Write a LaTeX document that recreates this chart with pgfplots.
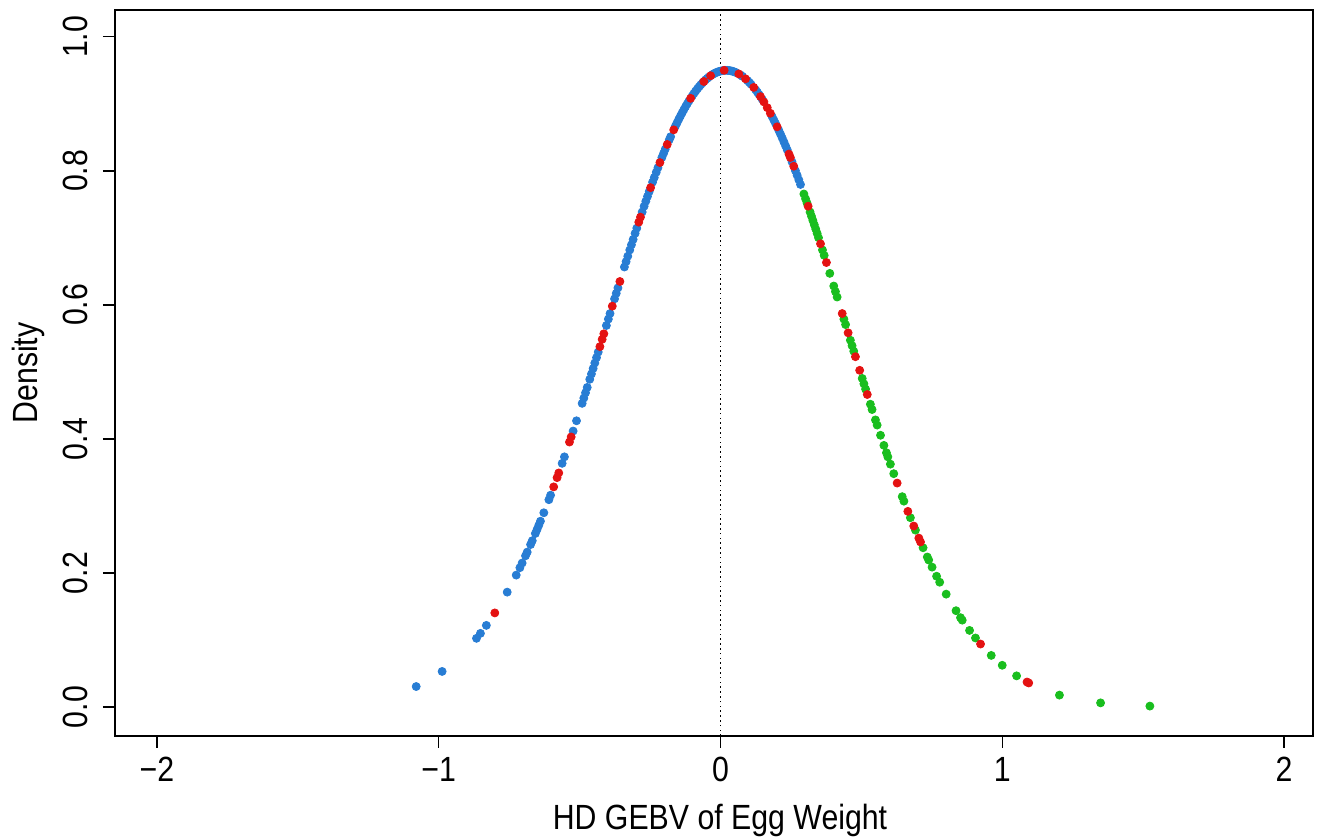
\documentclass[border=0pt]{standalone}
\usepackage{fontspec}
\setmainfont{Liberation Sans}[FakeStretch=0.865]
\usepackage{pgfplots}
\pgfplotsset{compat=1.18}
\definecolor{cblue}{RGB}{40,125,212}
\definecolor{cred}{RGB}{228,18,18}
\definecolor{cgreen}{RGB}{25,190,30}
\pgfplotstableread{
x y
-1.080 0.0308
-0.988 0.0533
-0.866 0.1027
-0.852 0.1101
-0.831 0.1220
-0.757 0.1716
-0.725 0.1970
-0.712 0.2080
-0.704 0.2150
-0.692 0.2258
-0.686 0.2313
-0.674 0.2426
-0.668 0.2483
-0.657 0.2591
-0.651 0.2651
-0.645 0.2712
-0.639 0.2774
-0.627 0.2900
-0.609 0.3095
-0.603 0.3162
-0.562 0.3637
-0.554 0.3734
-0.523 0.4119
-0.511 0.4272
-0.491 0.4532
-0.485 0.4611
-0.479 0.4690
-0.473 0.4770
-0.464 0.4891
-0.458 0.4971
-0.452 0.5052
-0.446 0.5134
-0.440 0.5215
-0.434 0.5297
-0.405 0.5693
-0.398 0.5789
-0.392 0.5872
-0.376 0.6091
-0.370 0.6173
-0.364 0.6254
-0.341 0.6566
-0.335 0.6646
-0.329 0.6727
-0.322 0.6820
-0.316 0.6898
-0.310 0.6977
-0.303 0.7068
-0.297 0.7146
-0.278 0.7386
-0.271 0.7473
-0.265 0.7547
-0.259 0.7619
-0.253 0.7691
-0.241 0.7832
-0.235 0.7901
-0.228 0.7980
-0.222 0.8047
-0.208 0.8199
-0.202 0.8261
-0.196 0.8324
-0.182 0.8462
-0.177 0.8510
-0.160 0.8667
-0.154 0.8719
-0.148 0.8770
-0.142 0.8819
-0.136 0.8867
-0.130 0.8913
-0.124 0.8958
-0.118 0.9001
-0.112 0.9042
-0.100 0.9120
-0.094 0.9157
-0.088 0.9191
-0.082 0.9224
-0.076 0.9255
-0.070 0.9284
-0.064 0.9312
-0.053 0.9358
-0.047 0.9380
-0.041 0.9401
-0.029 0.9436
-0.023 0.9451
-0.017 0.9463
-0.011 0.9474
-0.005 0.9483
0.001 0.9490
0.007 0.9495
0.019 0.9500
0.025 0.9499
0.031 0.9497
0.037 0.9492
0.043 0.9486
0.049 0.9477
0.055 0.9467
0.072 0.9428
0.078 0.9410
0.096 0.9346
0.102 0.9321
0.108 0.9294
0.125 0.9208
0.131 0.9174
0.137 0.9138
0.148 0.9069
0.183 0.8811
0.189 0.8761
0.195 0.8710
0.207 0.8604
0.213 0.8548
0.219 0.8491
0.225 0.8433
0.231 0.8374
0.237 0.8313
0.254 0.8134
0.266 0.8002
0.272 0.7935
0.278 0.7867
0.284 0.7797
}\blues
\pgfplotstableread{
x y
0.296 0.7655
0.302 0.7583
0.307 0.7522
0.318 0.7386
0.323 0.7323
0.328 0.7260
0.333 0.7196
0.338 0.7133
0.343 0.7068
0.348 0.7003
0.362 0.6820
0.368 0.6740
0.388 0.6471
0.402 0.6282
0.408 0.6200
0.414 0.6118
0.438 0.5789
0.444 0.5707
0.461 0.5474
0.467 0.5392
0.473 0.5310
0.503 0.4904
0.509 0.4823
0.515 0.4744
0.532 0.4519
0.538 0.4440
0.550 0.4285
0.556 0.4208
0.568 0.4056
0.580 0.3905
0.589 0.3795
0.594 0.3734
0.603 0.3625
0.615 0.3483
0.645 0.3140
0.651 0.3073
0.674 0.2826
0.692 0.2641
0.719 0.2378
0.734 0.2240
0.739 0.2195
0.751 0.2089
0.767 0.1953
0.778 0.1864
0.801 0.1686
0.836 0.1439
0.852 0.1335
0.858 0.1298
0.884 0.1145
0.905 0.1032
0.961 0.0772
1.000 0.0625
1.051 0.0467
1.203 0.0180
1.349 0.0064
1.524 0.0016
}\greens
\pgfplotstableread{
x y
-0.801 0.1406
-0.592 0.3286
-0.580 0.3424
-0.574 0.3494
-0.536 0.3955
-0.530 0.4031
-0.428 0.5378
-0.420 0.5487
-0.414 0.5570
-0.384 0.5982
-0.357 0.6350
-0.290 0.7235
-0.284 0.7310
-0.248 0.7750
-0.215 0.8124
-0.189 0.8394
-0.166 0.8612
-0.106 0.9082
-0.059 0.9333
-0.035 0.9419
0.013 0.9500
0.065 0.9446
0.089 0.9373
0.118 0.9245
0.142 0.9108
0.154 0.9029
0.166 0.8943
0.177 0.8859
0.201 0.8657
0.243 0.8251
0.248 0.8199
0.260 0.8069
0.311 0.7473
0.355 0.6912
0.376 0.6633
0.432 0.5872
0.453 0.5584
0.479 0.5228
0.494 0.5025
0.521 0.4664
0.627 0.3343
0.665 0.2921
0.686 0.2702
0.704 0.2522
0.710 0.2464
0.923 0.0942
1.088 0.0375
1.094 0.0361
}\reds
\begin{document}
\fontsize{17.5}{21}\selectfont
\begin{tikzpicture}
\useasboundingbox (-57.5pt,-51.5pt) rectangle (611.5pt,368pt);
\begin{axis}[
  scale only axis,
  width=599pt, height=363pt,
  xmin=-2.149, xmax=2.103,
  ymin=-0.043, ymax=1.040,
  axis line style={black, line width=0.7pt},
  xtick={-2,-1,0,1,2},
  xticklabels={−2,−1,0,1,2},
  ytick={0,0.2,0.4,0.6,0.8,1.0},
  yticklabels={0.0,0.2,0.4,0.6,0.8,1.0},
  xtick pos=left, ytick pos=left,
  tick align=outside,
  major tick length=6pt,
  tick style={black, line width=0.7pt},
  tick label style={font=\fontsize{17.5}{21}\selectfont, inner sep=0pt},
  xticklabel style={anchor=north},
  yticklabel style={rotate=90, anchor=south},
  xticklabel shift=4.5pt,
  yticklabel shift=7.5pt,
  xlabel={HD GEBV of Egg Weight},
  ylabel={Density},
  label style={font=\fontsize{17.5}{21}\selectfont, inner sep=0pt},
  xlabel style={at={(axis description cs:0.505,0)}, anchor=base, yshift=-47pt},
  ylabel style={at={(axis description cs:-0.0726,0.5)}, anchor=center},
  clip=false,
]
\addplot[black, line width=0.5pt, dash pattern=on 0.8pt off 1.6pt] coordinates {(0,-0.043) (0,1.040)};
\addplot[cblue, only marks, mark=*, mark size=2pt] table[x=x,y=y] {\blues};
\addplot[cgreen, only marks, mark=*, mark size=2pt] table[x=x,y=y] {\greens};
\addplot[cred, only marks, mark=*, mark size=2pt] table[x=x,y=y] {\reds};
\end{axis}
\end{tikzpicture}
\end{document}
